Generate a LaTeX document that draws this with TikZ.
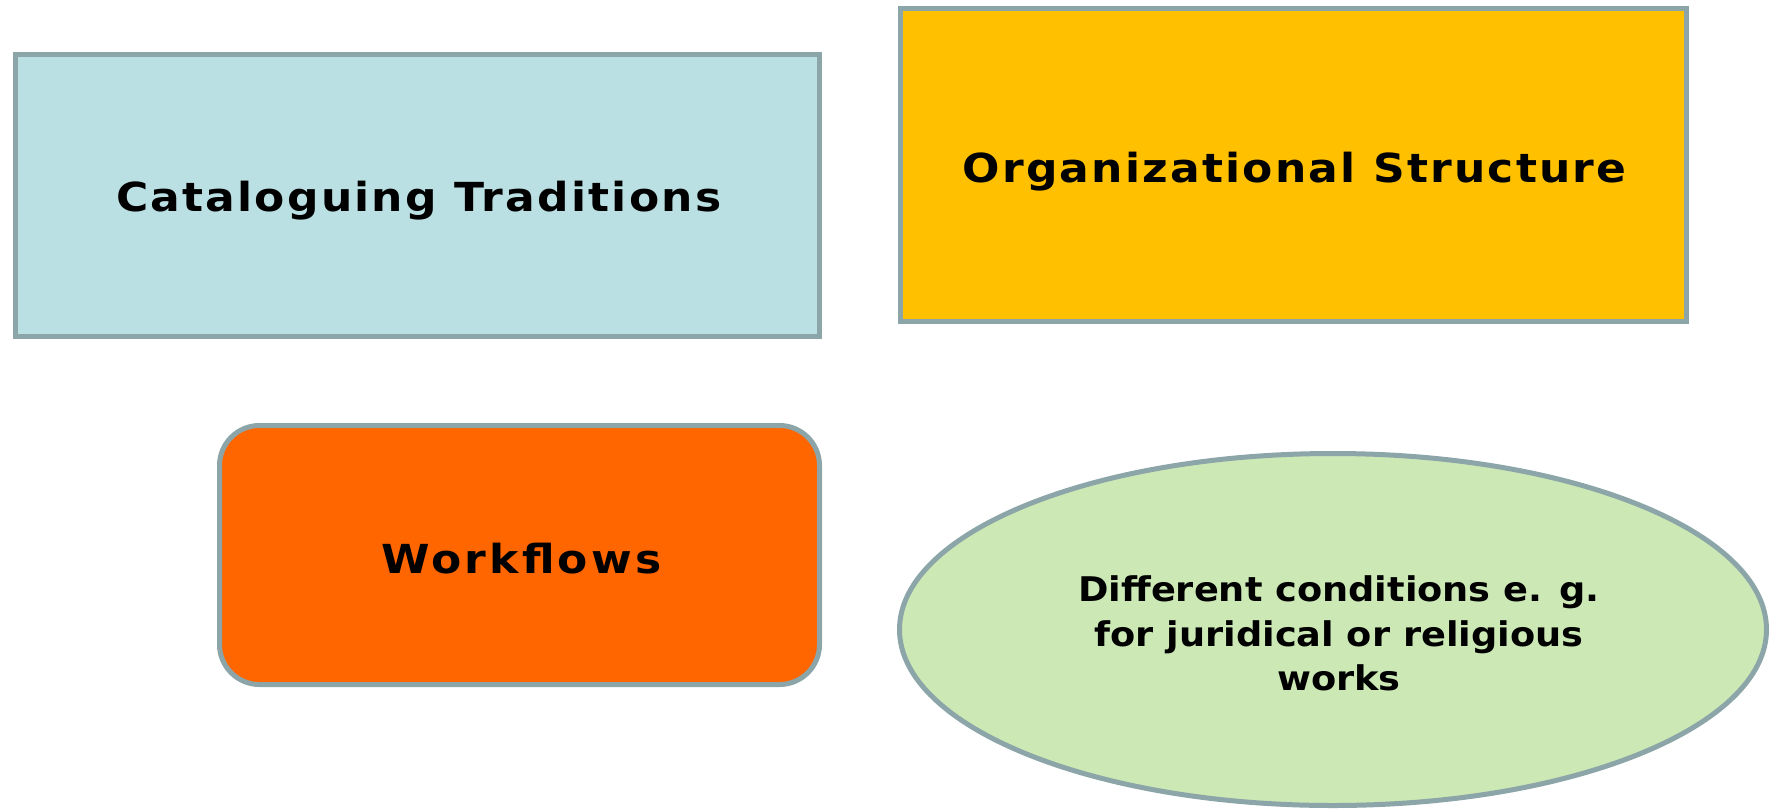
\documentclass[tikz,border=0pt]{standalone}
\usepackage{fontspec}
\setmainfont{DejaVu Sans}
\usetikzlibrary{shapes.geometric}
\definecolor{bordergray}{HTML}{8CA5A8}
\definecolor{lightblue}{HTML}{BBE0E3}
\definecolor{amber}{HTML}{FFC000}
\definecolor{deeporange}{HTML}{FF6600}
\definecolor{palegreen}{HTML}{CCE8B5}
\newfontfamily\titlefont[FakeStretch=1.1,LetterSpace=5.5]{DejaVu Sans Bold}
\newfontfamily\wffont[FakeStretch=1.1,LetterSpace=8]{DejaVu Sans Bold}
\newfontfamily\smallfont[FakeStretch=1.08]{DejaVu Sans Bold}
\tikzset{
  shapebox/.style={draw=bordergray, line width=2.5pt, inner sep=0pt},
  boxtext/.style={inner sep=0pt, align=center, font=\titlefont\fontsize{20}{24}\selectfont},
}
\begin{document}
\begin{tikzpicture}[x=0.5pt,y=-0.5pt]
\useasboundingbox (0,0) rectangle (1769,810);
\node[shapebox, rectangle, fill=lightblue, minimum width=402pt, minimum height=141pt] (cat) at (417.5,195.5) {};
\node[shapebox, rectangle, fill=amber, minimum width=393pt, minimum height=156.5pt] (org) at (1293.5,165) {};
\node[shapebox, rectangle, rounded corners=20pt, fill=deeporange, minimum width=300pt, minimum height=129.5pt] (wf) at (519.5,555) {};
\node[shapebox, ellipse, fill=palegreen, minimum width=433.5pt, minimum height=176pt] (cond) at (1333,629.5) {};
\node[boxtext] (cattext) at ([xshift=0.6pt,yshift=-2.5pt]cat.center) {Cataloguing Traditions};
\node[boxtext] (orgtext) at ([xshift=0.6pt,yshift=-3.5pt]org.center) {Organizational Structure};
\node[boxtext, font=\wffont\fontsize{20}{24}\selectfont] (wftext) at ([xshift=0.9pt,yshift=-2pt]wf.center) {Workflows};
\node[boxtext, font=\smallfont\fontsize{17}{22.3}\selectfont] (condtext) at ([xshift=3pt,yshift=-2pt]cond.center) {Different conditions e. g.\\for juridical or religious\\works};
\end{tikzpicture}
\end{document}
